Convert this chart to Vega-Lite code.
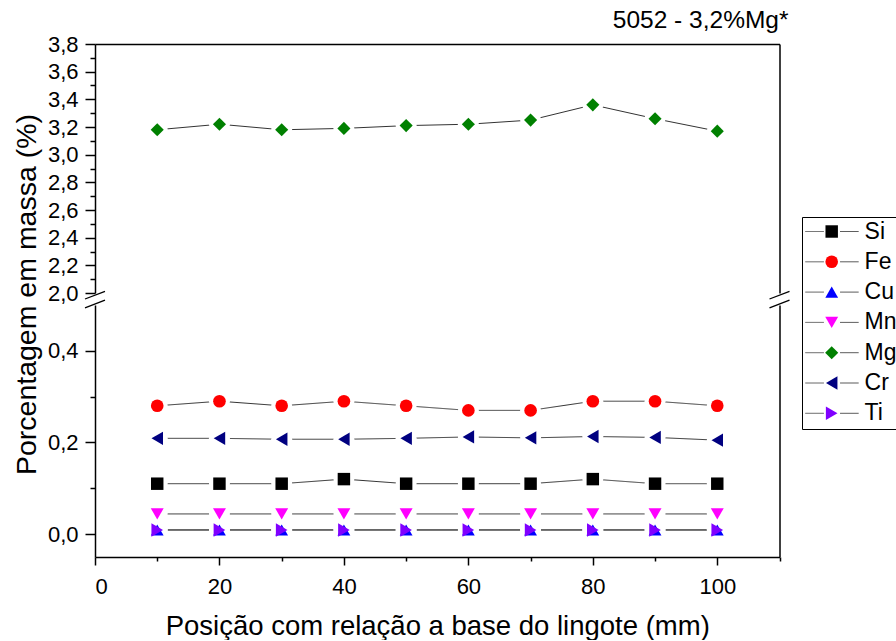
{
  "$schema": "https://vega.github.io/schema/vega-lite/v6.json",
  "padding": {"left": 12, "top": 7, "right": 0, "bottom": 0},
  "background": "white",
  "config": {
    "font": "Liberation Sans",
    "view": {"stroke": null},
    "axis": {
      "labelFont": "Liberation Sans", "titleFont": "Liberation Sans",
      "labelFontSize": 22, "titleFontSize": 27.5, "titleFontWeight": "normal",
      "labelColor": "black", "titleColor": "black",
      "domainColor": "black", "tickColor": "black",
      "domainWidth": 1.5, "tickWidth": 1.5, "grid": false
    }
  },
  "datasets": {
    "d": [
      {"element": "Si", "pos": 10, "value": 0.11}, {"element": "Si", "pos": 20, "value": 0.11}, {"element": "Si", "pos": 30, "value": 0.11}, {"element": "Si", "pos": 40, "value": 0.12}, {"element": "Si", "pos": 50, "value": 0.11},
      {"element": "Si", "pos": 60, "value": 0.11}, {"element": "Si", "pos": 70, "value": 0.11}, {"element": "Si", "pos": 80, "value": 0.12}, {"element": "Si", "pos": 90, "value": 0.11}, {"element": "Si", "pos": 100, "value": 0.11},
      {"element": "Fe", "pos": 10, "value": 0.28}, {"element": "Fe", "pos": 20, "value": 0.29}, {"element": "Fe", "pos": 30, "value": 0.28}, {"element": "Fe", "pos": 40, "value": 0.29}, {"element": "Fe", "pos": 50, "value": 0.28},
      {"element": "Fe", "pos": 60, "value": 0.27}, {"element": "Fe", "pos": 70, "value": 0.27}, {"element": "Fe", "pos": 80, "value": 0.29}, {"element": "Fe", "pos": 90, "value": 0.29}, {"element": "Fe", "pos": 100, "value": 0.28},
      {"element": "Cu", "pos": 10, "value": 0.009}, {"element": "Cu", "pos": 20, "value": 0.009}, {"element": "Cu", "pos": 30, "value": 0.009}, {"element": "Cu", "pos": 40, "value": 0.009}, {"element": "Cu", "pos": 50, "value": 0.009},
      {"element": "Cu", "pos": 60, "value": 0.009}, {"element": "Cu", "pos": 70, "value": 0.009}, {"element": "Cu", "pos": 80, "value": 0.009}, {"element": "Cu", "pos": 90, "value": 0.009}, {"element": "Cu", "pos": 100, "value": 0.009},
      {"element": "Mn", "pos": 10, "value": 0.044}, {"element": "Mn", "pos": 20, "value": 0.044}, {"element": "Mn", "pos": 30, "value": 0.044}, {"element": "Mn", "pos": 40, "value": 0.044}, {"element": "Mn", "pos": 50, "value": 0.044},
      {"element": "Mn", "pos": 60, "value": 0.044}, {"element": "Mn", "pos": 70, "value": 0.044}, {"element": "Mn", "pos": 80, "value": 0.044}, {"element": "Mn", "pos": 90, "value": 0.044}, {"element": "Mn", "pos": 100, "value": 0.044},
      {"element": "Mg", "pos": 10, "value": 3.18}, {"element": "Mg", "pos": 20, "value": 3.22}, {"element": "Mg", "pos": 30, "value": 3.18}, {"element": "Mg", "pos": 40, "value": 3.19}, {"element": "Mg", "pos": 50, "value": 3.21},
      {"element": "Mg", "pos": 60, "value": 3.22}, {"element": "Mg", "pos": 70, "value": 3.25}, {"element": "Mg", "pos": 80, "value": 3.36}, {"element": "Mg", "pos": 90, "value": 3.26}, {"element": "Mg", "pos": 100, "value": 3.17},
      {"element": "Cr", "pos": 10, "value": 0.209}, {"element": "Cr", "pos": 20, "value": 0.209}, {"element": "Cr", "pos": 30, "value": 0.207}, {"element": "Cr", "pos": 40, "value": 0.207}, {"element": "Cr", "pos": 50, "value": 0.209},
      {"element": "Cr", "pos": 60, "value": 0.212}, {"element": "Cr", "pos": 70, "value": 0.21}, {"element": "Cr", "pos": 80, "value": 0.213}, {"element": "Cr", "pos": 90, "value": 0.211}, {"element": "Cr", "pos": 100, "value": 0.205},
      {"element": "Ti", "pos": 10, "value": 0.009}, {"element": "Ti", "pos": 20, "value": 0.009}, {"element": "Ti", "pos": 30, "value": 0.009}, {"element": "Ti", "pos": 40, "value": 0.009}, {"element": "Ti", "pos": 50, "value": 0.009},
      {"element": "Ti", "pos": 60, "value": 0.009}, {"element": "Ti", "pos": 70, "value": 0.009}, {"element": "Ti", "pos": 80, "value": 0.009}, {"element": "Ti", "pos": 90, "value": 0.009}, {"element": "Ti", "pos": 100, "value": 0.009}
    ]
  },
  "bounds": "flush",
  "spacing": 12,
  "resolve": {"scale": {"y": "independent", "color": "shared", "shape": "shared", "size": "shared", "strokeDash": "independent"}, "legend": {"color": "independent", "shape": "independent", "size": "independent", "strokeDash": "independent"}},
  "vconcat": [
    {
      "width": 684.5,
      "height": 249,
      "title": {"text": "5052 - 3,2%Mg*", "anchor": "end", "frame": "group", "fontSize": 24.5, "font": "Liberation Sans", "fontWeight": "normal", "color": "black", "baseline": "alphabetic", "offset": -19, "dx": 9},
      "layer": [
        {
          "data": {"name": "d"},
          "transform": [{"filter": "datum.element === 'Mg'"}],
          "mark": {"type": "line", "color": "#333", "strokeWidth": 1},
          "encoding": {
            "x": {"field": "pos", "type": "quantitative", "scale": {"domain": [0, 110], "nice": false, "zero": false},
                  "axis": {"orient": "top", "ticks": false, "labels": false, "title": null, "domain": true}},
            "y": {"field": "value", "type": "quantitative", "scale": {"domain": [2.0, 3.8], "nice": false, "zero": false},
                  "axis": {"orient": "left", "values": [2.0, 2.1, 2.2, 2.3, 2.4, 2.5, 2.6, 2.7, 2.8, 2.9, 3.0, 3.1, 3.2, 3.3, 3.4, 3.5, 3.6, 3.7, 3.8],
                           "tickSize": {"condition": {"test": "round(datum.value*10) % 2 === 0", "value": 10}, "value": 5},
                           "labelExpr": "round(datum.value*10) % 2 === 0 ? replace(format(datum.value, '.1f'), '.', ',') : ''",
                           "labelPadding": 7, "title": "Porcentagem em massa (%)", "titleFontSize": 28.5, "titleY": 250, "titlePadding": 6}},
            "detail": {"field": "element"}
          }
        },
        {
          "data": {"name": "d"},
          "transform": [{"filter": "datum.element === 'Mg'"}],
          "mark": {"type": "point", "shape": "circle", "filled": true, "color": "white", "opacity": 1, "size": 440},
          "encoding": {
            "x": {"field": "pos", "type": "quantitative", "axis": null},
            "y": {"field": "value", "type": "quantitative", "axis": null}
          }
        },
        {
          "data": {"name": "d"},
          "transform": [{"filter": "datum.element === 'Mg'"}],
          "mark": {"type": "point", "filled": true, "opacity": 1},
          "encoding": {
            "x": {"field": "pos", "type": "quantitative", "axis": null},
            "y": {"field": "value", "type": "quantitative", "axis": {"orient": "right", "ticks": false, "labels": false, "title": null, "domain": true}},
            "color": {"field": "element", "type": "nominal", "legend": null,
                      "scale": {"domain": ["Si", "Fe", "Cu", "Mn", "Mg", "Cr", "Ti"], "range": ["#000000", "#ff0000", "#0000ff", "#ff00ff", "#008000", "#000080", "#8000ff"]}},
            "shape": {"field": "element", "type": "nominal", "legend": null,
                      "scale": {"domain": ["Si", "Fe", "Cu", "Mn", "Mg", "Cr", "Ti"], "range": ["square", "circle", "triangle-up", "triangle-down", "diamond", "triangle-left", "triangle-right"]}},
            "size": {"field": "element", "type": "nominal", "legend": null,
                     "scale": {"domain": ["Si", "Fe", "Cu", "Mn", "Mg", "Cr", "Ti"], "range": [155, 180, 300, 300, 250, 300, 300]}}
          }
        },
        {
          "data": {"values": [{}]},
          "mark": {"type": "point", "shape": "M-1,0.6L1,-0.16M-1,1.48L1,0.72", "size": 400, "filled": false, "color": "black", "strokeWidth": 1.3, "opacity": 1},
          "encoding": {
            "x": {"datum": 0, "type": "quantitative", "axis": null},
            "y": {"datum": 2.0, "type": "quantitative", "axis": null}
          }
        },
        {
          "data": {"values": [{}]},
          "mark": {"type": "point", "shape": "M-1,0.6L1,-0.16M-1,1.48L1,0.72", "size": 400, "filled": false, "color": "black", "strokeWidth": 1.3, "opacity": 1},
          "encoding": {
            "x": {"datum": 110, "type": "quantitative", "axis": null},
            "y": {"datum": 2.0, "type": "quantitative", "axis": null}
          }
        }
      ],
      "resolve": {"axis": {"x": "independent", "y": "independent"}}
    },
    {
      "width": 684.5,
      "height": 252,
      "data": {"name": "d"},
      "transform": [{"filter": "datum.element !== 'Mg'"}],
      "layer": [
        {
          "mark": {"type": "line", "color": "#333", "strokeWidth": 1},
          "encoding": {
            "x": {"field": "pos", "type": "quantitative", "scale": {"domain": [0, 110], "nice": false, "zero": false},
                  "axis": {"orient": "bottom", "values": [0, 10, 20, 30, 40, 50, 60, 70, 80, 90, 100, 110],
                           "tickSize": {"condition": {"test": "datum.value % 20 === 0", "value": 8}, "value": 4},
                           "labelExpr": "datum.value % 20 === 0 ? datum.label : ''",
                           "labelPadding": 11, "title": "Posição com relação a base do lingote (mm)", "titlePadding": 15}},
            "y": {"field": "value", "type": "quantitative", "scale": {"domain": [-0.05, 0.5], "nice": false, "zero": false},
                  "axis": {"orient": "left", "values": [0, 0.1, 0.2, 0.3, 0.4],
                           "tickSize": {"condition": {"test": "round(datum.value*10) % 2 === 0", "value": 10}, "value": 5},
                           "labelExpr": "round(datum.value*10) % 2 === 0 ? replace(format(datum.value, '.1f'), '.', ',') : ''",
                           "labelPadding": 7, "title": null}},
            "strokeDash": {"field": "element", "type": "nominal",
                           "scale": {"domain": ["Si", "Fe", "Cu", "Mn", "Mg", "Cr", "Ti", " "], "range": [[1, 0], [1, 0], [1, 0], [1, 0], [1, 0], [1, 0], [1, 0], [1, 0]]},
                           "legend": {
                             "title": null, "orient": "none", "legendX": 707, "legendY": -88,
                             "values": ["Si", "Fe", "Cu", "Mn", "Mg", "Cr", "Ti"],
                             "symbolType": "M-4.3,0H-1.3M1.3,0H4.3", "symbolSize": 154, "symbolStrokeWidth": 1, "symbolStrokeColor": "#555",
                             "labelFontSize": 23, "labelFont": "Liberation Sans", "labelOpacity": 0,
                             "padding": 3, "rowPadding": 6.3, "symbolOffset": 15.5, "labelOffset": 22
                           }}
          }
        },
        {
          "mark": {"type": "point", "shape": "circle", "filled": true, "color": "white", "opacity": 1, "size": 440},
          "encoding": {
            "x": {"field": "pos", "type": "quantitative", "axis": null},
            "y": {"field": "value", "type": "quantitative", "axis": null}
          }
        },
        {
          "mark": {"type": "point", "filled": true, "opacity": 1},
          "encoding": {
            "x": {"field": "pos", "type": "quantitative", "axis": null},
            "y": {"field": "value", "type": "quantitative", "axis": {"orient": "right", "ticks": false, "labels": false, "title": null, "domain": true}},
            "color": {"field": "element", "type": "nominal",
                      "scale": {"domain": ["Si", "Fe", "Cu", "Mn", "Mg", "Cr", "Ti"], "range": ["#000000", "#ff0000", "#0000ff", "#ff00ff", "#008000", "#000080", "#8000ff"]},
                      "legend": {
                        "title": null, "orient": "none", "legendX": 707, "legendY": -88,
                        "values": ["Si", "Fe", "Cu", "Mn", "Mg", "Cr", "Ti"],
                        "symbolSize": 160, "labelFontSize": 23, "labelFont": "Liberation Sans", "labelColor": "black",
                        "padding": 3, "rowPadding": 6.3, "symbolOffset": 15.2, "labelOffset": 21.4,
                        "strokeColor": "black", "cornerRadius": 0
                      }},
            "shape": {"field": "element", "type": "nominal", "legend": null,
                      "scale": {"domain": ["Si", "Fe", "Cu", "Mn", "Mg", "Cr", "Ti"], "range": ["square", "circle", "triangle-up", "triangle-down", "diamond", "triangle-left", "triangle-right"]}},
            "size": {"field": "element", "type": "nominal", "legend": null,
                     "scale": {"domain": ["Si", "Fe", "Cu", "Mn", "Mg", "Cr", "Ti"], "range": [155, 180, 300, 300, 250, 300, 300]}}
          }
        }
      ],
      "resolve": {"axis": {"x": "independent", "y": "independent"}}
    }
  ]
}
